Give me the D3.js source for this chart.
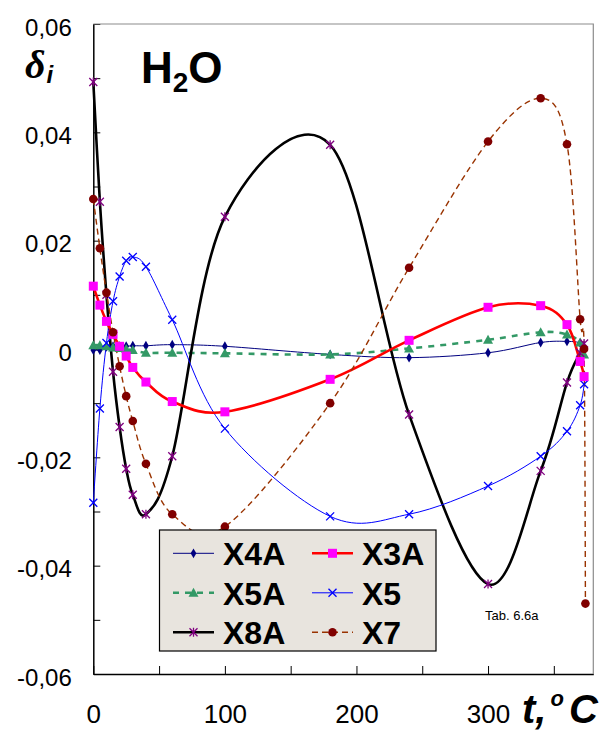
<!DOCTYPE html>
<html>
<head>
<meta charset="utf-8">
<script src="https://cdn.jsdelivr.net/npm/d3@7"></script>
<style>
  html, body { margin: 0; padding: 0; background: #ffffff; }
  svg { display: block; font-family: Arial, "Liberation Sans", sans-serif; }
</style>
</head>
<body>
<svg id="chart" width="606" height="743"></svg>
<script>
// Temperatures (°C) shared by most series
const temps = [0, 5, 10, 15, 20, 25, 30, 40, 60, 100, 180, 240, 300, 340, 360, 370, 373];
const tempsX7 = [0, 5, 10, 15, 20, 25, 30, 40, 60, 100, 180, 240, 300, 340, 360, 370, 373, 374];

// Deviations
const x4a = [-0.0002, -0.0002, 0.0004, 0.0005, 0.0005, 0.0005, 0.0006, 0.0006, 0.0008, 0.0005, -0.001, -0.0016, -0.0007, 0.0012, 0.0014, 0.0011, -0.0001];
const x5a = [0.0007, 0.0007, 0.0005, 0.0003, 0.0002, 0.0, -0.0002, -0.0007, -0.0007, -0.0008, -0.001, 0.0001, 0.0017, 0.0031, 0.0027, 0.0012, -0.001];
const x8a = [0.0493, 0.0272, 0.010, -0.0042, -0.0144, -0.0221, -0.0269, -0.0305, -0.0198, 0.0244, 0.0377, -0.0121, -0.0434, -0.0225, -0.0062, -0.0007, 0.001];
const x3a = [0.0116, 0.0081, 0.0051, 0.0027, 0.0005, -0.0013, -0.0034, -0.0061, -0.0097, -0.0116, -0.0056, 0.0016, 0.0077, 0.008, 0.0045, -0.0023, -0.0051];
const x5 = [-0.0284, -0.011, 0.0011, 0.0088, 0.0134, 0.0163, 0.017, 0.0152, 0.0054, -0.0147, -0.0309, -0.0305, -0.0253, -0.0198, -0.0152, -0.0104, -0.0065];
const x7 = [0.0277, 0.0186, 0.0104, 0.0031, -0.0032, -0.0087, -0.0133, -0.0212, -0.0305, -0.0328, -0.01, 0.015, 0.0383, 0.0463, 0.0378, 0.0055, 0.0, -0.047];

// Axis ticks
const yTicks = [-0.06, -0.05, -0.04, -0.03, -0.02, -0.01, 0, 0.01, 0.02, 0.03, 0.04, 0.05, 0.06];
const yLabelled = [-0.06, -0.04, -0.02, 0, 0.02, 0.04, 0.06];
const xTicks = [0, 50, 100, 150, 200, 250, 300, 350];
const xLabelled = [0, 100, 200, 300];

// Series styling (legend order, row by row)
const series = [
  { name: 'X4A', t: temps, v: x4a, line: '#000080', mark: '#000080', width: 1, dash: null, shape: 'diamond' },
  { name: 'X3A', t: temps, v: x3a, line: '#ff0000', mark: '#ff00ff', width: 2.6, dash: null, shape: 'square' },
  { name: 'X5A', t: temps, v: x5a, line: '#339966', mark: '#339966', width: 2.6, dash: '6,6', shape: 'triangle' },
  { name: 'X5', t: temps, v: x5, line: '#0000ff', mark: '#0000ff', width: 1, dash: null, shape: 'x' },
  { name: 'X8A', t: temps, v: x8a, line: '#000000', mark: '#800080', width: 2.6, dash: null, shape: 'star' },
  { name: 'X7', t: tempsX7, v: x7, line: '#993300', mark: '#800000', width: 1.4, dash: '6,4', shape: 'circle' },
];
// draw order so that markers overlap like the original
const drawOrder = ['X4A', 'X5A', 'X8A', 'X5', 'X3A', 'X7'];

const plotLeft = 93.3, plotRight = 593.3, plotTop = 24, plotBottom = 674;

const xScale = d3.scaleLinear().domain([0, 380]).range([plotLeft, plotRight]);
const yScale = d3.scaleLinear().domain([-0.06, 0.06]).range([plotBottom, plotTop]);

const svg = d3.select('#chart');

// marker drawing helper
function drawMarker(g, shape, color, cx, cy) {
  if (shape === 'diamond') {
    g.append('path').attr('d', d3.symbol(d3.symbolDiamond, 28)())
      .attr('transform', `translate(${cx},${cy})`).attr('fill', color);
  } else if (shape === 'square') {
    g.append('rect').attr('x', cx - 4.5).attr('y', cy - 4.5).attr('width', 9).attr('height', 9)
      .attr('fill', color);
  } else if (shape === 'triangle') {
    g.append('path').attr('d', `M${cx},${cy - 5}L${cx + 5},${cy + 4}L${cx - 5},${cy + 4}Z`)
      .attr('fill', color);
  } else if (shape === 'x') {
    g.append('path').attr('d', `M${cx - 4},${cy - 4}L${cx + 4},${cy + 4}M${cx - 4},${cy + 4}L${cx + 4},${cy - 4}`)
      .attr('stroke', color).attr('stroke-width', 1.3).attr('fill', 'none');
  } else if (shape === 'star') {
    g.append('path').attr('d', `M${cx - 4},${cy - 4}L${cx + 4},${cy + 4}M${cx - 4},${cy + 4}L${cx + 4},${cy - 4}M${cx},${cy - 4.5}L${cx},${cy + 4.5}`)
      .attr('stroke', color).attr('stroke-width', 1.3).attr('fill', 'none');
  } else if (shape === 'circle') {
    g.append('circle').attr('cx', cx).attr('cy', cy).attr('r', 4.3).attr('fill', color);
  }
}

// tick label format: comma decimal, plain 0
const fmtY = (d) => {
  if (!yLabelled.some((l) => Math.abs(l - d) < 1e-9)) return '';
  if (Math.abs(d) < 1e-9) return '0';
  return d3.format('.2f')(d).replace('.', ',').replace('−', '-');
};

// Y axis (ticks pointing inside)
const yAxis = d3.axisLeft(yScale)
  .tickValues(yTicks)
  .tickSizeInner(-7)
  .tickSizeOuter(0)
  .tickPadding(21.5)
  .tickFormat(fmtY);

const yAxisGroup = svg.append('g').attr('transform', `translate(${plotLeft},0)`).call(yAxis);
yAxisGroup.select('.domain').attr('stroke', '#000').attr('stroke-width', 1.5);
yAxisGroup.selectAll('.tick line').attr('stroke', '#000');
yAxisGroup.selectAll('.tick text')
  .attr('font-size', 24).attr('fill', '#000').attr('dy', 11)
  .attr('font-family', 'Arial, "Liberation Sans", sans-serif');

// X axis (ticks pointing inside)
const xAxis = d3.axisBottom(xScale)
  .tickValues(xTicks)
  .tickSizeInner(-8)
  .tickSizeOuter(0)
  .tickFormat((d) => xLabelled.includes(d) ? String(d) : '');

const xAxisGroup = svg.append('g').attr('transform', `translate(0,${plotBottom})`).call(xAxis);
xAxisGroup.select('.domain').attr('stroke', '#000').attr('stroke-width', 1.5);
xAxisGroup.selectAll('.tick line').attr('stroke', '#000');
xAxisGroup.selectAll('.tick text')
  .attr('font-size', 26).attr('fill', '#000').attr('y', 49).attr('dy', 0)
  .attr('font-family', 'Arial, "Liberation Sans", sans-serif');

// Gray frame on top and right
svg.append('path')
  .attr('d', `M${plotLeft},${plotTop}H${plotRight}V${plotBottom}`)
  .attr('fill', 'none').attr('stroke', '#8c8c8c').attr('stroke-width', 1.2);

// Lines (Excel-like smoothing: uniform Catmull-Rom)
const lineGen = d3.line()
  .x((d) => xScale(d[0]))
  .y((d) => yScale(d[1]))
  .curve(d3.curveCatmullRom.alpha(0));

const plot = svg.append('g');
drawOrder.forEach((name) => {
  const s = series.find((d) => d.name === name);
  const pts = s.t.map((t, i) => [t, s.v[i]]);
  plot.append('path')
    .datum(pts)
    .attr('d', lineGen)
    .attr('fill', 'none')
    .attr('stroke', s.line)
    .attr('stroke-width', s.width)
    .attr('stroke-dasharray', s.dash);
});

// Markers
drawOrder.forEach((name) => {
  const s = series.find((d) => d.name === name);
  const g = plot.append('g');
  s.t.forEach((t, i) => drawMarker(g, s.shape, s.mark, xScale(t), yScale(s.v[i])));
});

// Legend
const legend = svg.append('g');
legend.append('rect')
  .attr('x', 159.5).attr('y', 530).attr('width', 276.5).attr('height', 121)
  .attr('fill', '#e8e4de').attr('stroke', '#000').attr('stroke-width', 1.2);

series.forEach((s, i) => {
  const col = i % 2, row = Math.floor(i / 2);
  const lx = col === 0 ? 173 : 312;
  const cy = 553.3 + row * 39.5;
  const g = legend.append('g');
  g.append('line')
    .attr('x1', lx).attr('x2', lx + 41).attr('y1', cy).attr('y2', cy)
    .attr('stroke', s.line).attr('stroke-width', s.width)
    .attr('stroke-dasharray', s.dash);
  drawMarker(g, s.shape, s.mark, lx + 20.5, cy);
  g.append('text')
    .attr('x', lx + 50).attr('y', cy + 11.7)
    .attr('font-size', 32).attr('font-weight', 'bold')
    .text(s.name);
});

// Note
svg.append('text').attr('x', 485).attr('y', 620).attr('font-size', 13).text('Tab. 6.6a');

// Title H2O
const title = svg.append('text').attr('x', 141).attr('y', 83.3)
  .attr('font-size', 44).attr('font-weight', 'bold');
title.append('tspan').text('H');
title.append('tspan').attr('font-size', 28).attr('dy', 8.4).text('2');
title.append('tspan').attr('dy', -8.4).text('O');

// Y axis label δi
const yLab = svg.append('text').attr('x', 25).attr('y', 78)
  .attr('font-weight', 'bold').attr('font-style', 'italic');
yLab.append('tspan').attr('font-size', 40).attr('font-family', '"Liberation Serif", serif').text('δ');
yLab.append('tspan').attr('font-size', 24).attr('dy', 5).attr('dx', 1).text('i');

// X axis label t, °C
const xLab = svg.append('text').attr('x', 522).attr('y', 723)
  .attr('font-weight', 'bold').attr('font-style', 'italic').attr('font-size', 40);
xLab.append('tspan').text('t,');
xLab.append('tspan').attr('font-size', 22).attr('dy', -17).attr('dx', 4).text('o');
xLab.append('tspan').attr('dy', 17).attr('dx', 5).text('C');
</script>
</body>
</html>
